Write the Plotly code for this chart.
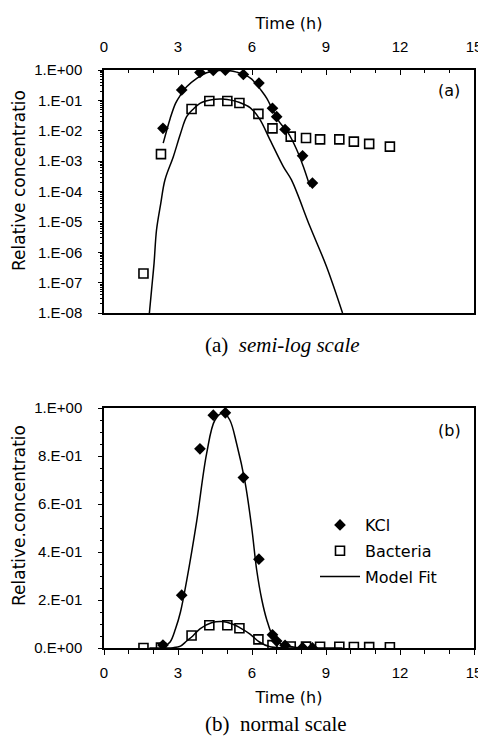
import plotly.graph_objects as go

# ---------------- data ----------------
kcl_t = [2.39, 3.15, 3.89, 4.43, 4.92, 5.65, 6.28, 6.83, 7.0, 7.34, 8.05, 8.45]
kcl_c = [0.012, 0.22, 0.83, 0.97, 0.98, 0.71, 0.37, 0.055, 0.029, 0.011, 0.0015, 0.00019]

bac_t = [1.6, 2.31, 3.55, 4.27, 5.0, 5.49, 6.26, 6.83, 7.57, 8.19, 8.76, 9.54, 10.13, 10.75, 11.59]
bac_c = [2.0e-7, 0.0017, 0.052, 0.095, 0.095, 0.082, 0.036, 0.012, 0.0064, 0.0058,
         0.0052, 0.0052, 0.0044, 0.0037, 0.0030]

kcl_fit_t = [2.40, 2.68, 2.90, 3.10, 3.35, 3.76, 4.16, 4.50, 4.84, 5.10, 5.38, 5.72,
             5.99, 6.19, 6.40, 6.60, 6.86, 7.10, 7.47, 7.80, 8.08, 8.35]
kcl_fit_c = [0.0039, 0.025, 0.08, 0.15, 0.28, 0.53, 0.81, 0.95, 0.98, 0.95, 0.85, 0.69,
             0.50, 0.325, 0.20, 0.117, 0.045, 0.02, 0.0083, 0.0025, 0.00066, 0.000145]

bac_fit_t = [1.84, 1.93, 2.03, 2.13, 2.30, 2.47, 2.81, 3.10, 3.35, 3.60, 3.89, 4.36,
             4.80, 5.20, 5.50, 5.92, 6.30, 6.73, 7.27, 7.60, 8.35, 9.02, 9.67]
bac_fit_c = [1e-8, 6e-8, 4.4e-7, 5.5e-6, 4e-5, 2.4e-4, 1.4e-3, 8e-3, 0.029, 0.05, 0.08, 0.105,
             0.11, 0.10, 0.085, 0.058, 0.025, 0.005, 6.6e-4, 2.4e-4, 7e-6, 3.4e-7, 1e-8]

x_ticks = [0, 3, 6, 9, 12, 15]
log_tickvals = [1e-8, 1e-7, 1e-6, 1e-5, 1e-4, 1e-3, 1e-2, 1e-1, 1e0]
log_ticktext = ["1.E-08", "1.E-07", "1.E-06", "1.E-05", "1.E-04", "1.E-03", "1.E-02", "1.E-01", "1.E+00"]
lin_tickvals = [0, 0.2, 0.4, 0.6, 0.8, 1.0]
lin_ticktext = ["0.E+00", "2.E-01", "4.E-01", "6.E-01", "8.E-01", "1.E+00"]

# ---------------- figure ----------------
# the page body has an 8 px default margin, so the figure is drawn 8 px in from the corner
OFF = 8
W, H = 486 - OFF, 744 - OFF
FONT = "DejaVu Sans, Liberation Sans, sans-serif"
TICKFONT = "Liberation Sans, Arial, sans-serif"
SERIF = "Liberation Serif, DejaVu Serif, serif"

def px_x(p):
    return (p - OFF) / W

def px_y(p):
    return 1 - (p - OFF) / H

fig = go.Figure()

diamond = dict(symbol="diamond", size=9, color="black")
square = dict(symbol="square-open", size=9, color="black", line=dict(width=1.6, color="black"))
fitline = dict(color="black", width=1.5)

# top (semi-log)
fig.add_trace(go.Scatter(x=kcl_fit_t, y=kcl_fit_c, mode="lines", line=fitline, line_shape="spline",
                         showlegend=False, xaxis="x", yaxis="y"))
fig.add_trace(go.Scatter(x=bac_fit_t, y=bac_fit_c, mode="lines", line=fitline, line_shape="spline",
                         showlegend=False, xaxis="x", yaxis="y"))
fig.add_trace(go.Scatter(x=kcl_t, y=kcl_c, mode="markers", marker=diamond,
                         showlegend=False, xaxis="x", yaxis="y"))
fig.add_trace(go.Scatter(x=bac_t, y=bac_c, mode="markers", marker=square,
                         showlegend=False, xaxis="x", yaxis="y"))

# bottom (normal)
fig.add_trace(go.Scatter(x=kcl_t, y=kcl_c, mode="markers", marker=diamond, name="KCl",
                         legendgroup="a", xaxis="x2", yaxis="y2"))
fig.add_trace(go.Scatter(x=bac_t, y=bac_c, mode="markers", marker=square, name="Bacteria",
                         legendgroup="b", xaxis="x2", yaxis="y2"))
fig.add_trace(go.Scatter(x=kcl_fit_t, y=kcl_fit_c, mode="lines", line=fitline, line_shape="spline",
                         name="Model Fit", legendgroup="c", xaxis="x2", yaxis="y2"))
fig.add_trace(go.Scatter(x=bac_fit_t, y=bac_fit_c, mode="lines", line=fitline, line_shape="spline",
                         showlegend=False, legendgroup="c", xaxis="x2", yaxis="y2"))

xdom = [px_x(104), px_x(474)]
axis_common = dict(showline=True, linecolor="black", linewidth=1.5, mirror=True, automargin=False,
                   showgrid=False, zeroline=False, tickfont=dict(family=TICKFONT, size=15, color="black"))

minor_log = [m * 10 ** e for e in range(-8, 0) for m in range(2, 10)]

fig.update_layout(
    width=W, height=H,
    margin=dict(l=0, r=0, t=0, b=0, autoexpand=False),
    paper_bgcolor="white", plot_bgcolor="white",
    font=dict(family=FONT, size=15, color="black"),
    xaxis=dict(domain=xdom, anchor="y", side="top", range=[0, 15],
               tickmode="array", tickvals=x_ticks, ticks="inside", ticklen=5, tickcolor="black",
               ticklabelstandoff=10,
               minor=dict(dtick=1, tick0=0, ticks="inside", ticklen=3, tickcolor="black"),
               title=dict(text="Time (h)", font=dict(family=FONT, size=16), standoff=5),
               **axis_common),
    yaxis=dict(domain=[px_y(313), px_y(70)], anchor="x", type="log", range=[-8, 0],
               tickmode="array", tickvals=log_tickvals, ticktext=log_ticktext,
               ticks="outside", ticklen=4, tickcolor="black", ticklabelstandoff=13,
               minor=dict(tickmode="array", tickvals=minor_log, ticks="outside", ticklen=2, tickcolor="black"),
               **axis_common),
    xaxis2=dict(domain=xdom, anchor="y2", range=[0, 15],
                tickmode="array", tickvals=x_ticks, ticks="outside", ticklen=5, tickcolor="black",
                ticklabelstandoff=5,
                minor=dict(dtick=1, tick0=0, ticks="outside", ticklen=4, tickcolor="black"),
                title=dict(text="Time (h)", font=dict(family=FONT, size=16), standoff=12),
                **axis_common),
    yaxis2=dict(domain=[px_y(648), px_y(408)], anchor="x2", range=[0, 1.0],
                tickmode="array", tickvals=lin_tickvals, ticktext=lin_ticktext,
                ticks="outside", ticklen=4, tickcolor="black", ticklabelstandoff=13,
                minor=dict(dtick=0.05, tick0=0, ticks="outside", ticklen=2, tickcolor="black"),
                **axis_common),
    legend=dict(x=px_x(315), y=px_y(508), xanchor="left", yanchor="top",
                bgcolor="rgba(0,0,0,0)", font=dict(family=FONT, size=16),
                tracegroupgap=2, itemwidth=40),
    annotations=[
        dict(text="Relative concentratio", textangle=-90, x=px_x(19), y=px_y(181),
             xanchor="center", yanchor="middle",
             xref="paper", yref="paper", showarrow=False, font=dict(family=FONT, size=17)),
        dict(text="Relative.concentratio", textangle=-90, x=px_x(19), y=px_y(516),
             xanchor="center", yanchor="middle",
             xref="paper", yref="paper", showarrow=False, font=dict(family=FONT, size=17)),
        dict(text="(a)", x=px_x(449), y=px_y(90), xanchor="center", yanchor="middle",
             xref="paper", yref="paper", showarrow=False, font=dict(family=FONT, size=16)),
        dict(text="(b)", x=px_x(449), y=px_y(430), xanchor="center", yanchor="middle",
             xref="paper", yref="paper", showarrow=False, font=dict(family=FONT, size=16)),
        dict(text="(a)  <i>semi-log scale</i>", x=px_x(282), y=px_y(345), xanchor="center", yanchor="middle",
             xref="paper", yref="paper", showarrow=False, font=dict(family=SERIF, size=21)),
        dict(text="(b)  normal scale", x=px_x(276), y=px_y(724), xanchor="center", yanchor="middle",
             xref="paper", yref="paper", showarrow=False, font=dict(family=SERIF, size=21)),
    ],
)

fig.write_html("out.html")
